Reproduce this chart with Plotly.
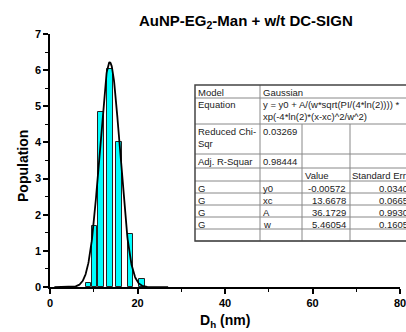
import numpy as np
import plotly.graph_objects as go

# Histogram of hydrodynamic diameters
bin_centers = [8.8, 10.2, 11.65, 13.65, 15.8, 18.4, 21.1]
population = [0.11, 1.68, 4.83, 6.03, 4.01, 1.46, 0.22]
bar_width = 1.3

# Gaussian fit parameters (Origin-style fit report)
fit_names = ["y0", "xc", "A", "w"]
fit_values = [-0.00572, 13.6678, 36.1729, 5.46054]
fit_errors = ["0.03404", "0.06657", "0.99303", "0.16053"]
fit_values_txt = ["-0.00572", "13.6678", "36.1729", "5.46054"]
reduced_chi_sqr = "0.03269"
adj_r_sqr = "0.98444"

x_ticks = [0, 20, 40, 60, 80]
y_ticks = [0, 1, 2, 3, 4, 5, 6, 7]

y0, xc, A, w = fit_values
xf = np.linspace(1, 27, 400)
yf = y0 + A / (w * np.sqrt(np.pi / (4 * np.log(2)))) * np.exp(-4 * np.log(2) * (xf - xc) ** 2 / w ** 2)

FONT = "Liberation Sans, Arial, sans-serif"

fig = go.Figure()
fig.add_trace(go.Bar(x=bin_centers, y=population, width=bar_width,
                     marker=dict(color="#00FFFF", line=dict(color="#222222", width=1))))
fig.add_trace(go.Scatter(x=xf, y=yf, mode="lines", line=dict(color="black", width=1.8),
                         cliponaxis=True))

W, H = 406, 332
L, R, T, B = 50, 6, 34, 45
pw, ph = W - L - R, H - T - B


def px(x):
    return (x - L) / pw


def py(y):
    return (H - B - y) / ph


shapes = []
annotations = []

# fit report table
col_x = [195, 260, 302, 350, 420]
row_y = [85, 98, 124, 154, 168, 181, 193, 205, 217, 229]
bottom = 241
grid = dict(color="#888888", width=1)
# horizontal rules
for yy in row_y[1:] + [bottom]:
    shapes.append(dict(type="line", xref="paper", yref="paper", x0=px(col_x[0]), x1=px(col_x[-1]),
                       y0=py(yy), y1=py(yy), line=grid))
# vertical rules
shapes.append(dict(type="line", xref="paper", yref="paper", x0=px(col_x[1]), x1=px(col_x[1]),
                   y0=py(row_y[0]), y1=py(bottom), line=grid))
for cx in col_x[2:4]:
    shapes.append(dict(type="line", xref="paper", yref="paper", x0=px(cx), x1=px(cx),
                       y0=py(row_y[2]), y1=py(bottom), line=grid))
# outer border
shapes.append(dict(type="rect", xref="paper", yref="paper", x0=px(col_x[0]), x1=px(col_x[-1]),
                   y0=py(bottom), y1=py(row_y[0]), line=dict(color="#444444", width=1.5)))

tfont = dict(family=FONT, size=9.5, color="#222222")


def cell(text, x, y, align="left"):
    annotations.append(dict(text=text, xref="paper", yref="paper", x=px(x), y=py(y),
                            xanchor=align, yanchor="top", showarrow=False, font=tfont,
                            align=align, borderpad=0))


cell("Model", 197, row_y[0] + 0.5)
cell("Gaussian", 262, row_y[0] + 0.5)
cell("Equation", 197, row_y[1] + 0.5)
cell("y = y0 + A/(w*sqrt(PI/(4*ln(2)))) *<br>xp(-4*ln(2)*(x-xc)^2/w^2)", 262, row_y[1] + 0.5)
cell("Reduced Chi-<br>Sqr", 197, row_y[2] + 0.5)
cell(reduced_chi_sqr, 262, row_y[2] + 0.5)
cell("Adj. R-Squar", 197, row_y[3] + 0.5)
cell(adj_r_sqr, 262, row_y[3] + 0.5)
cell("Value", 304, row_y[4] + 0.5)
cell("Standard Err", 351, row_y[4] + 0.5)
for i, name in enumerate(fit_names):
    ry = row_y[5 + i] + 0.5
    cell("G", 197, ry)
    cell(name, 262, ry)
    cell(fit_values_txt[i], 347, ry, "right")
    cell(fit_errors[i], 414, ry, "right")

# chart title
annotations.append(dict(text="<b>AuNP-EG<sub>2</sub>-Man + w/t DC-SIGN</b>", xref="paper", yref="paper",
                        x=px(246), y=py(21), xanchor="center", yanchor="middle", showarrow=False,
                        font=dict(family=FONT, size=15, color="black")))
# axis titles
annotations.append(dict(text="<b>D<sub>h</sub> (nm)</b>", xref="paper", yref="paper",
                        x=px(225), y=py(321), xanchor="center", yanchor="middle", showarrow=False,
                        font=dict(family=FONT, size=14, color="black")))
annotations.append(dict(text="<b>Population</b>", xref="paper", yref="paper", textangle=-90,
                        x=px(23), y=py(166), xanchor="center", yanchor="middle", showarrow=False,
                        font=dict(family=FONT, size=14, color="black")))

tick_font = dict(family=FONT, size=11, color="black", weight="bold")
# last x tick label sits on the right edge of the page
annotations.append(dict(text=str(x_ticks[-1]), xref="x", yref="paper", x=x_ticks[-1], y=py(295),
                        xanchor="center", yanchor="top", showarrow=False, font=tick_font))

axis_common = dict(showline=True, linecolor="black", linewidth=1.5, ticks="outside",
                   ticklen=5, tickwidth=1.5, tickcolor="black", showgrid=False, zeroline=False,
                   tickfont=tick_font)

fig.update_layout(
    width=W, height=H, margin=dict(l=L, r=R, t=T, b=B),
    plot_bgcolor="white", paper_bgcolor="white", showlegend=False,
    bargap=0,
    xaxis=dict(range=[0, 80], tickvals=x_ticks,
               ticktext=[str(v) for v in x_ticks[:-1]] + [""],
               minor=dict(ticks="outside", ticklen=3, tickwidth=1, tickcolor="black", dtick=10, tick0=0),
               **axis_common),
    yaxis=dict(range=[0, 7], tickvals=y_ticks, ticktext=[str(v) for v in y_ticks],
               minor=dict(ticks="outside", ticklen=3, tickwidth=1, tickcolor="black", dtick=0.5, tick0=0),
               **axis_common),
    shapes=shapes, annotations=annotations,
)

fig.write_html("out.html")
